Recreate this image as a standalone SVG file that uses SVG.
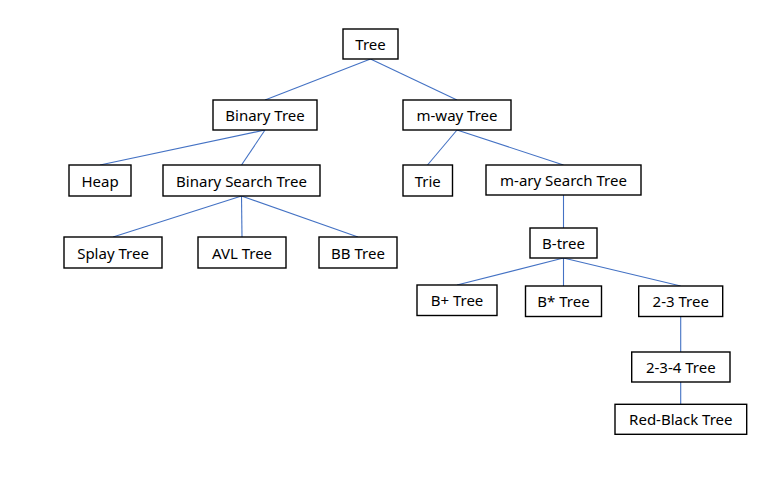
<svg xmlns="http://www.w3.org/2000/svg" width="772" height="478" viewBox="0 0 772 478">
<style>
.box{fill:#fff;stroke:#000;stroke-width:1.4}
.lbl{font-family:"Noto Sans","Liberation Sans",sans-serif;font-size:15px;fill:#000;text-anchor:middle;dominant-baseline:central}
.c{stroke:#4472C4;stroke-width:1.1;fill:none}
</style>
<rect width="772" height="478" fill="#fff"/>
<g id="connectors">
<line class="c" x1="370.5" y1="59" x2="265" y2="100"/>
<line class="c" x1="370.5" y1="59" x2="457" y2="100"/>
<line class="c" x1="265" y1="130" x2="100" y2="165"/>
<line class="c" x1="265" y1="130" x2="241.5" y2="165"/>
<line class="c" x1="241.5" y1="196" x2="113" y2="237"/>
<line class="c" x1="241.5" y1="196" x2="242" y2="237"/>
<line class="c" x1="241.5" y1="196" x2="358" y2="237"/>
<line class="c" x1="457" y1="130" x2="427.5" y2="165"/>
<line class="c" x1="457" y1="130" x2="563.5" y2="165"/>
<line class="c" x1="563.5" y1="195" x2="563.5" y2="228"/>
<line class="c" x1="563.5" y1="258" x2="457" y2="285"/>
<line class="c" x1="563.5" y1="258" x2="563.5" y2="286"/>
<line class="c" x1="563.5" y1="258" x2="680.7" y2="286"/>
<line class="c" x1="680.7" y1="317" x2="680.7" y2="352"/>
<line class="c" x1="680.7" y1="382" x2="680.7" y2="404"/>
</g>
<g id="n-tree"><rect class="box" x="343" y="29" width="55" height="30"/><text class="lbl" x="370.5" y="44">Tree</text></g>
<g id="n-binary"><rect class="box" x="213" y="100" width="104" height="30"/><text class="lbl" x="265" y="115">Binary Tree</text></g>
<g id="n-mway"><rect class="box" x="403" y="100" width="108" height="30"/><text class="lbl" x="457" y="115">m-way Tree</text></g>
<g id="n-heap"><rect class="box" x="69" y="165" width="62" height="31"/><text class="lbl" x="100" y="180.5">Heap</text></g>
<g id="n-bst"><rect class="box" x="163" y="165" width="157" height="31"/><text class="lbl" x="241.5" y="180.5">Binary Search Tree</text></g>
<g id="n-trie"><rect class="box" x="403" y="165" width="49.5" height="31"/><text class="lbl" x="427.7" y="180.5">Trie</text></g>
<g id="n-mary"><rect class="box" x="486" y="165" width="155" height="30"/><text class="lbl" x="563.5" y="180">m-ary Search Tree</text></g>
<g id="n-splay"><rect class="box" x="64" y="237" width="98" height="31"/><text class="lbl" x="113" y="252.5">Splay Tree</text></g>
<g id="n-avl"><rect class="box" x="198" y="237" width="88" height="31"/><text class="lbl" x="242" y="252.5">AVL Tree</text></g>
<g id="n-bb"><rect class="box" x="319" y="237" width="78" height="31"/><text class="lbl" x="358" y="252.5">BB Tree</text></g>
<g id="n-btree"><rect class="box" x="530" y="228" width="67" height="30"/><text class="lbl" x="563.5" y="243">B-tree</text></g>
<g id="n-bplus"><rect class="box" x="417" y="285" width="80" height="30.5"/><text class="lbl" x="457" y="300">B+ Tree</text></g>
<g id="n-bstar"><rect class="box" x="525.5" y="286" width="76" height="30.5"/><text class="lbl" x="563.5" y="301">B* Tree</text></g>
<g id="n-23"><rect class="box" x="638.7" y="286" width="84" height="30.5"/><text class="lbl" x="680.7" y="301">2-3 Tree</text></g>
<g id="n-234"><rect class="box" x="631.7" y="352" width="98.3" height="30"/><text class="lbl" x="680.8" y="367">2-3-4 Tree</text></g>
<g id="n-rb"><rect class="box" x="615" y="404.3" width="131.7" height="30"/><text class="lbl" x="680.8" y="419.3">Red-Black Tree</text></g>
</svg>
